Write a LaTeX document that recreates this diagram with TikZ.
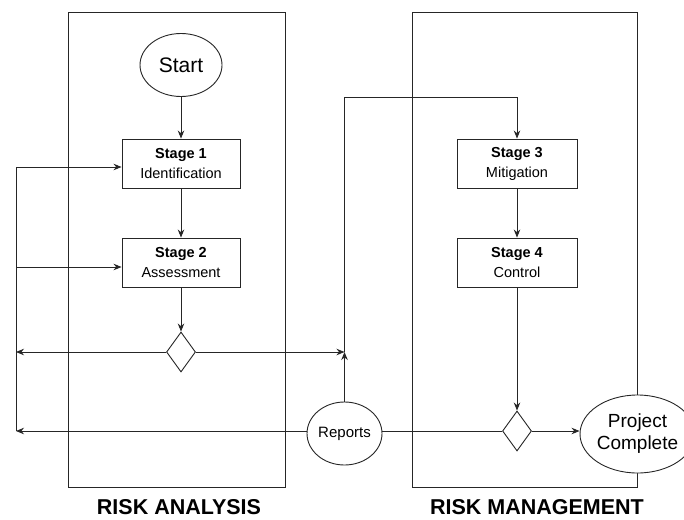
\documentclass[tikz,border=0pt]{standalone}
\usepackage{fontspec}
\setmainfont{Liberation Sans}
\usetikzlibrary{shapes.geometric,arrows.meta}
\begin{document}
\begin{tikzpicture}[x=1pt,y=-1pt,
  line width=0.9pt,
  ink/.style={draw=black!85},
  arr/.style={ink,-{Stealth[length=8pt,width=6.5pt]}},
  lane/.style={ink,fill=none},
  stagebox/.style={ink,fill=white,rectangle,inner sep=0pt,minimum width=118pt,minimum height=49pt,
    align=center,font=\fontsize{14.5}{20}\selectfont},
  bubble/.style={ink,fill=white,ellipse,inner sep=0pt,align=center},
  gate/.style={ink,fill=white,diamond,inner sep=0pt,minimum width=29pt,minimum height=40pt},
  lanetitle/.style={font=\bfseries\fontsize{21.5}{24}\selectfont}]
\useasboundingbox (0,0) rectangle (684,519);

% swim lanes
\draw[lane] (68,12) rectangle (285,487);
\draw[lane] (412,12) rectangle (637,487);
\node[lanetitle] (tA) at (179,507) {RISK ANALYSIS};
\node[lanetitle] (tM) at (537,507) {RISK MANAGEMENT};

% risk analysis column
\node[bubble,minimum width=82pt,minimum height=63pt,font=\fontsize{21}{24}\selectfont] (start) at (181,65) {Start};
\node[stagebox] (s1) at (181,163.5) {\textbf{Stage 1}\\Identification};
\node[stagebox] (s2) at (181,262.5) {\textbf{Stage 2}\\Assessment};
\node[gate] (d1) at (181,352) {};

% risk management column
\node[stagebox,minimum width=120pt] (s3) at (517,163.5) {\textbf{Stage 3}\\Mitigation};
\node[stagebox,minimum width=120pt] (s4) at (517,262.5) {\textbf{Stage 4}\\Control};
\node[gate] (d2) at (517,431) {};

% outputs
\node[bubble,minimum width=75pt,minimum height=63pt,font=\fontsize{15}{18}\selectfont] (rep) at (344.5,433.5) {Reports};
\node[bubble,minimum width=91pt,minimum height=78pt,font=\fontsize{19}{22}\selectfont] (pc) at (637.5,434) {Project\\Complete};

% routing points
\coordinate (J) at (344.5,352);
\coordinate (top) at (344.5,97);
\coordinate (LA) at (16,352);
\coordinate (LB) at (16,431);
\coordinate (LT) at (16,167);
\coordinate (LM) at (16,267);

% main flow
\draw[arr] (start) -- (s1);
\draw[arr] (s1) -- (s2);
\draw[arr] (s2) -- (d1);
\draw[arr] (s3) -- (s4);
\draw[arr] (s4) -- (d2);
\draw[arr] (d2.east) -- (d2 -| pc.west);
\draw[ink] (rep.east |- d2) -- (d2.west);

% decision branches
\draw[arr] (d1.west) -- (LA);
\draw[arr] (d1.east) -- (J);
\draw[arr] (rep.north) -- (J);
\draw[arr] (J) -- (top) -| (s3.north);
\draw[arr] (rep.west |- LB) -- (LB);

% feedback into stages 1 and 2
\draw[arr] (LB) -- (LT) -- (LT -| s1.west);
\draw[arr] (LM) -- (LM -| s2.west);
\end{tikzpicture}
\end{document}
